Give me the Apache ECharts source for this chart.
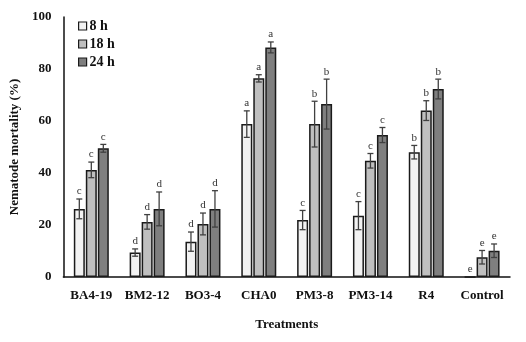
<!DOCTYPE html>
<html><head><meta charset="utf-8">
<script src="https://cdn.jsdelivr.net/npm/echarts@6/dist/echarts.min.js"></script>
<style>html,body{margin:0;padding:0;background:#fff}#c{width:526px;height:342px}</style>
</head><body><div id="c"></div>
<script>
const categories = ['BA4-19','BM2-12','BO3-4','CHA0','PM3-8','PM3-14','R4','Control'];
const seriesNames = ['8 h','18 h','24 h'];
const v8  = [26.2, 9.4, 13.6, 58.8, 21.9, 23.6, 48.0, 0];
const v18 = [41.2, 21.2, 20.4, 76.4, 58.8, 44.7, 64.0, 7.6];
const v24 = [49.5, 26.2, 26.2, 88.3, 66.5, 54.6, 72.3, 10.1];
const e8  = [3.8, 1.4, 3.7, 5.1, 3.7, 5.4, 2.6, 0];
const e18 = [3.0, 2.8, 4.2, 1.4, 8.8, 2.8, 3.8, 2.6];
const e24 = [1.5, 6.5, 7.0, 2.1, 9.6, 2.9, 3.8, 2.6];
const l8  = ['c','d','d','a','c','c','b','e'];
const l18 = ['c','d','d','a','b','c','b','e'];
const l24 = ['c','d','d','a','b','c','b','e'];
const yTicks = [0,20,40,60,80,100];

const values = [v8, v18, v24];
const errs = [e8, e18, e24];
const letters = [l8, l18, l24];
const fills = ['#f2f2f2','#bfbfbf','#7f7f7f'];
const barW = 11, step = 12;
const font = '"Liberation Serif","Times New Roman",serif';

const chart = echarts.init(document.getElementById('c'), null, {renderer:'canvas'});
const series = [];
values.forEach((vals, s) => {
  series.push({
    name: seriesNames[s], type:'bar', data: vals, barWidth: barW, barGap: '9%',
    itemStyle:{color:fills[s], borderColor:'#1a1a1a', borderWidth:1.5},
    z: 2
  });
});
values.forEach((vals, s) => {
  const data = vals.map((v,i)=>[i, v, errs[s][i]]);
  series.push({
    type:'custom', data, z: 5, silent:true,
    renderItem:(params, api)=>{
      const i = api.value(0), v = api.value(1), e = api.value(2), lab = letters[s][i];
      const off = (s-1)*step;
      const top = api.coord([i, v+e]); const bot = api.coord([i, v-e]);
      const x = top[0] + off;
      const children = [];
      if (e > 0) {
        const st = {stroke:'#404040', lineWidth:1.3};
        children.push({type:'line', shape:{x1:x,y1:top[1],x2:x,y2:bot[1]}, style:st});
        children.push({type:'line', shape:{x1:x-3,y1:top[1],x2:x+3,y2:top[1]}, style:st});
        children.push({type:'line', shape:{x1:x-3,y1:bot[1],x2:x+3,y2:bot[1]}, style:st});
      }
      children.push({type:'text', style:{text:lab, x:x, y:top[1]-2, textAlign:'center', textVerticalAlign:'bottom',
        font:'11px '+font, fill:'#333'}});
      return {type:'group', children};
    }
  });
});

chart.setOption({
  animation:false,
  grid:{left:60, right:16, top:17, bottom:65},
  legend:{
    data: seriesNames.map((n,k)=>({name:n, itemStyle:{color:fills[k], borderColor:'#1a1a1a', borderWidth:1.2}})),
    orient:'vertical', left:73, top:14, itemWidth:8, itemHeight:8, itemGap:4, icon:'rect',
    textStyle:{fontFamily:font, fontWeight:'bold', fontSize:14, color:'#111', padding:[0,0,0,-2]}
  },
  xAxis:{
    type:'category', data:categories,
    axisLine:{lineStyle:{color:'#111', width:1.5}}, axisTick:{show:false},
    axisLabel:{fontFamily:font, fontWeight:'bold', fontSize:13, color:'#111', margin:12, interval:0},
    name:'Treatments', nameLocation:'middle', nameGap:41,
    nameTextStyle:{fontFamily:font, fontWeight:'bold', fontSize:13, color:'#111'}
  },
  yAxis:{
    type:'value', min:yTicks[0], max:yTicks[yTicks.length-1], interval:20,
    axisLine:{show:true, lineStyle:{color:'#111', width:1.5}}, axisTick:{show:false},
    splitLine:{show:false},
    axisLabel:{fontFamily:font, fontWeight:'bold', fontSize:13, color:'#111', margin:12},
    name:'Nematode mortality (%)', nameLocation:'middle', nameGap:34, nameRotate:90,
    nameTextStyle:{fontFamily:font, fontWeight:'bold', fontSize:13, color:'#111'}
  },
  series
});
</script></body></html>
